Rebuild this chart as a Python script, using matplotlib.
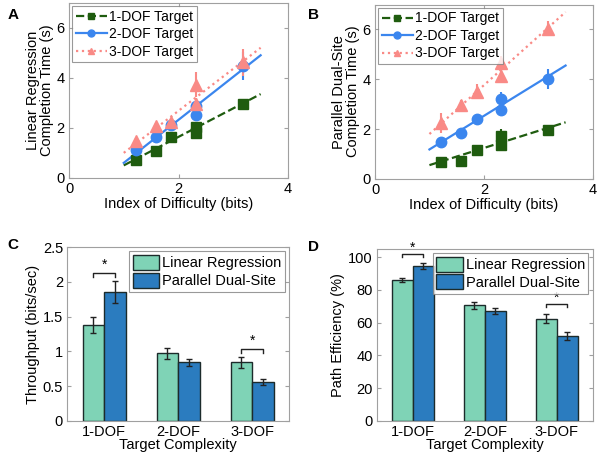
import matplotlib
matplotlib.use("Agg")
import matplotlib.pyplot as plt
import numpy as np

plt.rcParams['font.family'] = ['Liberation Sans', 'DejaVu Sans']

# ---- Data: panels A & B (completion time vs index of difficulty)
id_bits = [1.22, 1.58, 1.87, 2.32, 2.32, 3.17]
fit_x = [1.0, 3.5]

lr_1dof = [0.73, 1.07, 1.65, 1.78, 2.05, 2.97]
lr_1dof_err = [0.08, 0.08, 0.1, 0.2, 0.2, 0.12]
lr_2dof = [1.13, 1.62, 2.12, 2.52, 2.87, 4.47]
lr_2dof_err = [0.1, 0.1, 0.12, 0.15, 0.2, 0.55]
lr_3dof = [1.47, 2.07, 2.22, 2.95, 3.72, 4.62]
lr_3dof_err = [0.12, 0.12, 0.12, 0.25, 0.5, 0.55]
lr_fit_1 = [0.5, 3.35]
lr_fit_2 = [0.6, 4.9]
lr_fit_3 = [1.0, 5.2]

pds_1dof = [0.67, 0.72, 1.14, 1.36, 1.7, 1.97]
pds_1dof_err = [0.08, 0.08, 0.1, 0.2, 0.3, 0.15]
pds_2dof = [1.46, 1.86, 2.4, 2.75, 3.2, 4.0]
pds_2dof_err = [0.1, 0.12, 0.15, 0.2, 0.3, 0.4]
pds_3dof = [2.23, 2.97, 3.5, 4.15, 4.65, 6.02]
pds_3dof_err = [0.4, 0.2, 0.3, 0.3, 0.3, 0.3]
pds_fit_1 = [0.55, 2.27]
pds_fit_2 = [1.18, 4.55]
pds_fit_3 = [1.8, 6.7]

series_labels = ['1-DOF Target', '2-DOF Target', '3-DOF Target']

# ---- Data: panels C & D (bars)
complexity = ['1-DOF', '2-DOF', '3-DOF']
method_labels = ['Linear Regression', 'Parallel Dual-Site']
tp_lr = [1.38, 0.97, 0.84]
tp_lr_err = [0.11, 0.08, 0.08]
tp_pds = [1.85, 0.84, 0.56]
tp_pds_err = [0.16, 0.05, 0.04]
pe_lr = [86.0, 70.5, 62.5]
pe_lr_err = [1.5, 2.0, 2.5]
pe_pds = [94.5, 67.0, 52.0]
pe_pds_err = [2.0, 2.0, 2.5]

c_green = '#1f5c0f'
c_blue = '#3b86ee'
c_red = '#f98a86'
c_teal = '#7fd3b6'
c_dblue = '#2b7cbf'
edge_grey = '#a0a0a0'

fig = plt.figure(figsize=(6.0, 4.55), dpi=100)

def style_ax(ax):
    for s in ax.spines.values():
        s.set_color(edge_grey)
        s.set_linewidth(0.8)
    ax.tick_params(direction='in', length=3, color=edge_grey, labelsize=10.5,
                   top=True, right=True, labeltop=False, labelright=False, pad=3)

def scatter_panel(ax, ys, errs, fits, ylabel):
    styles = [
        dict(color=c_green, marker='s', ls='--', ms=7),
        dict(color=c_blue, marker='o', ls='-', ms=7.5),
        dict(color=c_red, marker='^', ls=':', ms=8),
    ]
    for y, e, f, st, lab in zip(ys, errs, fits, styles, series_labels):
        ax.plot(fit_x, f, color=st['color'], ls=st['ls'], lw=1.6, zorder=2)
        ax.errorbar(id_bits, y, yerr=e, fmt='none', ecolor=st['color'], elinewidth=1.5, capsize=0, zorder=3)
        ax.plot(id_bits, y, ls='none', marker=st['marker'], color=st['color'], ms=st['ms'], zorder=4)
        ax.plot([], [], color=st['color'], ls=st['ls'], marker=st['marker'], ms=5, lw=1.6, label=lab)
    ax.set_xlim(0, 4)
    ax.set_ylim(0, 7)
    ax.set_xticks([0, 2, 4])
    ax.set_yticks([0, 2, 4, 6])
    ax.set_xlabel('Index of Difficulty (bits)', fontsize=10.5, labelpad=1)
    ax.set_ylabel(ylabel, fontsize=10.5, labelpad=2, linespacing=1.0)
    leg = ax.legend(loc='upper left', fontsize=10, frameon=True, fancybox=False,
                    handlelength=2.2, handletextpad=0.2, borderpad=0.25,
                    labelspacing=0.25, borderaxespad=0.25)
    leg.get_frame().set_edgecolor('#808080')
    leg.get_frame().set_linewidth(0.8)
    style_ax(ax)

axA = fig.add_axes([0.115, 0.609, 0.365, 0.385])
scatter_panel(axA, [lr_1dof, lr_2dof, lr_3dof], [lr_1dof_err, lr_2dof_err, lr_3dof_err],
              [lr_fit_1, lr_fit_2, lr_fit_3], 'Linear Regression\nCompletion Time (s)')
axB = fig.add_axes([0.625, 0.607, 0.363, 0.383])
scatter_panel(axB, [pds_1dof, pds_2dof, pds_3dof], [pds_1dof_err, pds_2dof_err, pds_3dof_err],
              [pds_fit_1, pds_fit_2, pds_fit_3], 'Parallel Dual-Site\nCompletion Time (s)')

def bar_panel(ax, a, ae, b, be, ylim, yticks, yticklabels, ylabel, sig):
    x = np.arange(1, len(complexity) + 1)
    w = 0.29
    ax.bar(x - w / 2, a, w, color=c_teal, edgecolor='#1c2b2b', lw=1.0, label=method_labels[0], zorder=2)
    ax.bar(x + w / 2, b, w, color=c_dblue, edgecolor='#1c2b2b', lw=1.0, label=method_labels[1], zorder=2)
    ax.errorbar(x - w / 2, a, yerr=ae, fmt='none', ecolor='#222222', elinewidth=1.0, capsize=2, zorder=3)
    ax.errorbar(x + w / 2, b, yerr=be, fmt='none', ecolor='#222222', elinewidth=1.0, capsize=2, zorder=3)
    for gi, yb, ys, tick in sig:
        x0, x1 = x[gi] - w / 2, x[gi] + w / 2
        ax.plot([x0, x0, x1, x1], [yb - tick, yb, yb, yb - tick], color='#222222', lw=1.0, clip_on=False)
        ax.text((x0 + x1) / 2, ys, '*', ha='center', va='center', fontsize=10, clip_on=False)
    ax.set_xlim(0.5, 3.5)
    ax.set_ylim(*ylim)
    ax.set_xticks(x)
    ax.set_xticklabels(complexity)
    ax.set_yticks(yticks)
    ax.set_yticklabels(yticklabels)
    ax.set_xlabel('Target Complexity', fontsize=10.5, labelpad=-1)
    ax.set_ylabel(ylabel, fontsize=10.5, labelpad=2)
    leg = ax.legend(loc='upper right', fontsize=10.5, frameon=True, fancybox=False,
                    handlelength=1.8, handleheight=1.2, handletextpad=0.2, borderpad=0.25,
                    labelspacing=0.15, borderaxespad=0.3)
    leg.get_frame().set_edgecolor('#808080')
    leg.get_frame().set_linewidth(0.8)
    style_ax(ax)
    ax.tick_params(axis='x', top=False, length=0)

axC = fig.add_axes([0.112, 0.075, 0.37, 0.382])
bar_panel(axC, tp_lr, tp_lr_err, tp_pds, tp_pds_err, (0, 2.5),
          [0, 0.5, 1, 1.5, 2, 2.5], ['0', '0.5', '1', '1.5', '2', '2.5'],
          'Throughput (bits/sec)', [(0, 2.12, 2.25, 0.05), (2, 1.03, 1.15, 0.05)])
axD = fig.add_axes([0.628, 0.075, 0.36, 0.378])
bar_panel(axD, pe_lr, pe_lr_err, pe_pds, pe_pds_err, (0, 105),
          [0, 20, 40, 60, 80, 100], ['0', '20', '40', '60', '80', '100'],
          'Path Efficiency (%)', [(0, 102, 105.5, 2), (2, 71.5, 75, 2)])

for lab, (fx, fy) in zip(['A', 'B', 'C', 'D'],
                         [(0.012, 0.968), (0.513, 0.968), (0.012, 0.462), (0.513, 0.458)]):
    fig.text(fx, fy, lab, fontsize=11, fontweight='bold', ha='left', va='center')

fig.savefig('out.png', dpi=100)
